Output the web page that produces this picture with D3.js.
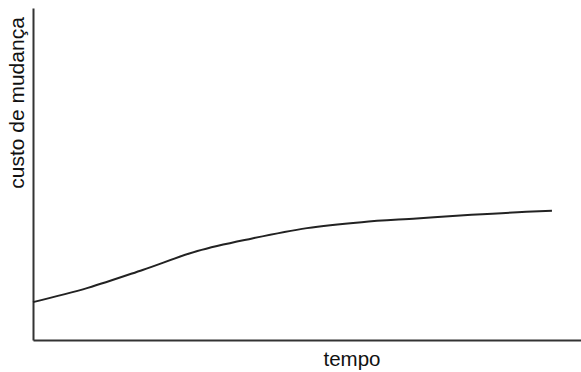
<!DOCTYPE html>
<html><head><meta charset="utf-8">
<script src="https://cdn.jsdelivr.net/npm/d3@7"></script>
<style>html,body{margin:0;padding:0;background:#fff;}svg{display:block;}</style>
</head><body>
<script>
const tempo = [0, 1, 2, 3, 4, 5, 6, 7, 8, 9, 9.47];
const custo = [11.4, 15.7, 21.1, 26.8, 30.6, 33.7, 35.5, 36.6, 37.7, 38.6, 38.9];
const xLabel = "tempo";
const yLabel = "custo de mudança";

const W = 581, H = 372;
const svg = d3.select("body").append("svg").attr("width", W).attr("height", H);
const x = d3.scaleLinear().domain([0, 10]).range([33, 581]);
const y = d3.scaleLinear().domain([0, 100]).range([340, 8]);

svg.append("g").attr("transform", `translate(0,${y(0)})`)
  .call(d3.axisBottom(x).ticks(0).tickSize(0).tickFormat(""))
  .call(g => g.select(".domain").attr("stroke", "#333").attr("stroke-width", 2));
svg.append("g").attr("transform", `translate(${x(0)},0)`)
  .call(d3.axisLeft(y).ticks(0).tickSize(0).tickFormat(""))
  .call(g => g.select(".domain").attr("stroke", "#333").attr("stroke-width", 2));

const pts = tempo.map((t, i) => [t, custo[i]]);
svg.append("path").datum(pts)
  .attr("fill", "none").attr("stroke", "#222").attr("stroke-width", 2)
  .attr("d", d3.line().x(d => x(d[0])).y(d => y(d[1])).curve(d3.curveMonotoneX));

svg.append("text").attr("x", 352).attr("y", 366).attr("text-anchor", "middle")
  .attr("font-family", "Liberation Sans, Arial, sans-serif").attr("font-size", 20.5)
  .attr("fill", "#111").text(xLabel);
svg.append("text").attr("transform", "translate(24,103) rotate(-90)").attr("text-anchor", "middle")
  .attr("font-family", "Liberation Sans, Arial, sans-serif").attr("font-size", 21)
  .attr("fill", "#111").text(yLabel);
</script>
</body></html>
